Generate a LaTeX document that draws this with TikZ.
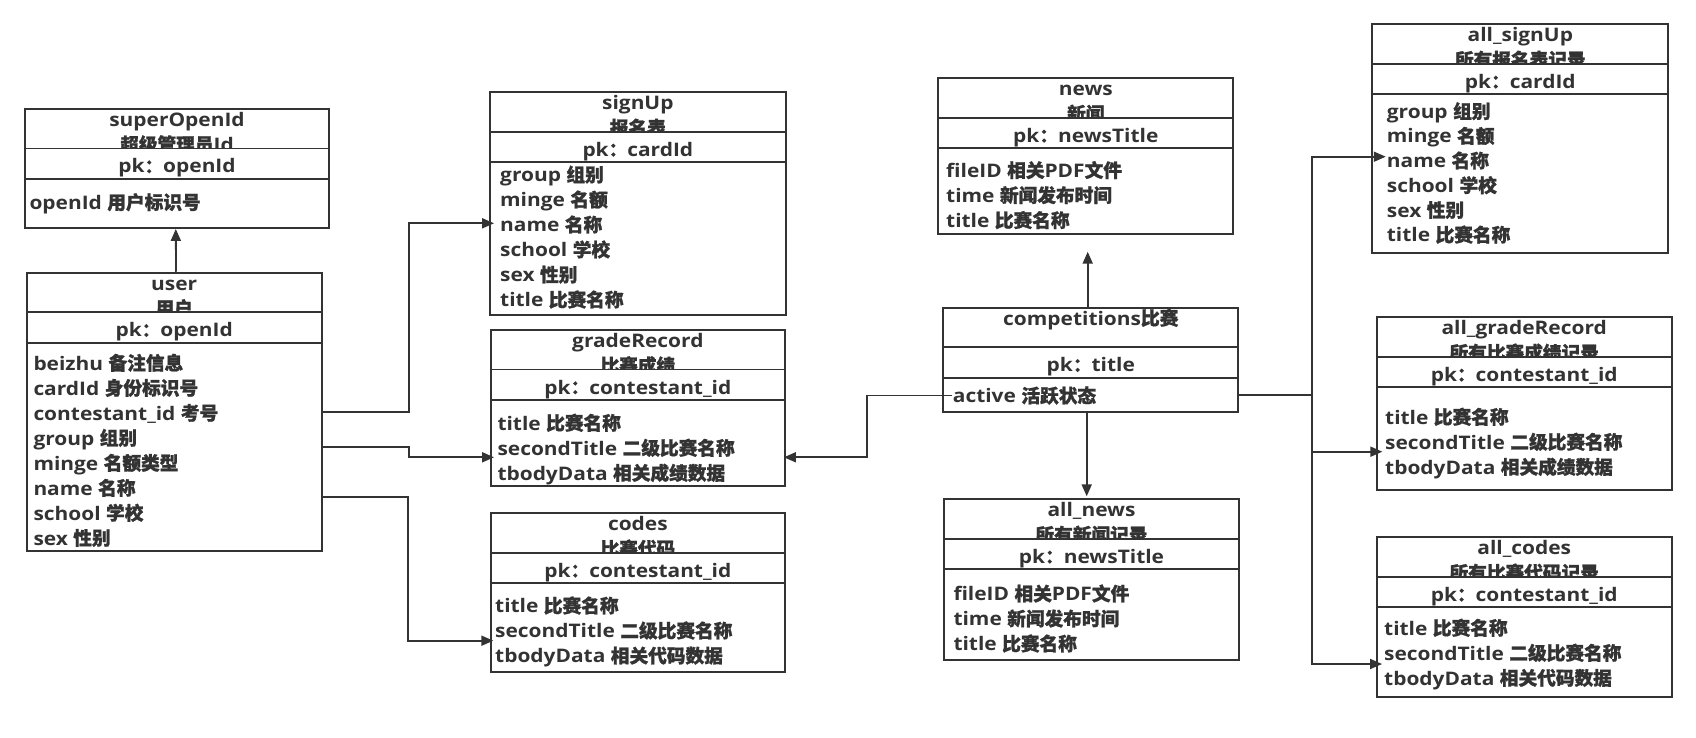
\documentclass[tikz,border=0pt]{standalone}
\usepackage{fontspec}
\setmainfont{Open Sans}[FakeStretch=1.12]
\newfontfamily\cjk{Noto Sans CJK SC}[FakeBold=1.2]
\usetikzlibrary{arrows.meta}
\definecolor{ink}{HTML}{333333}
\tikzset{
  tbl/.style={draw=ink, line width=1.9pt, rectangle, inner sep=0pt},
  sepline/.style={draw=ink, line width=1.9pt},
  ttl/.style={text=ink, inner sep=0pt, anchor=base, font=\fontsize{18.67}{25}\selectfont\bfseries},
  attr/.style={text=ink, inner sep=0pt, anchor=base west, font=\fontsize{18.67}{25}\selectfont\bfseries},
  conn/.style={draw=ink, line width=1.8pt},
  arr/.style={conn, -{Triangle[length=12pt,width=10pt]}},
}
\newcommand\erbox[8]{%
  \begin{scope}
    \clip (#2,#3) rectangle (#4,{#3+39.5});
    \node[ttl] (#1-t1) at ({(#2+#4)/2},{#3+17.5}) {#6};
    \node[ttl] (#1-t2) at ({(#2+#4)/2},{#3+42.5}) {#7};
  \end{scope}
  \node[tbl, minimum width={(#4)-(#2)}, minimum height={(#5)-(#3)}] (#1) at ({(#2+#4)/2},{(#3+#5)/2}) {};
  \draw[sepline] (#2,{#3+39.5}) -- (#4,{#3+39.5});
  \draw[sepline] (#2,{#3+70}) -- (#4,{#3+70});
  \node[ttl] (#1-pk) at ({(#2+#4)/2},{#3+64}) {#8};
}
\begin{document}
\begin{tikzpicture}[x=1pt,y=-1pt]
\fill[white] (0,0) rectangle (1696,738);
\useasboundingbox (0,0) rectangle (1696,738);

% superOpenId
\erbox{sup}{25}{109}{329}{228}{superOpenId}{{\cjk 超级管理员}Id}{pk{\cjk ：}openId}
\node[attr] (sup-a1) at (29.3,209.3) {openId {\cjk 用户标识号}};

% user
\erbox{user}{26.7}{272.7}{321.7}{551}{user}{{\cjk 用户}}{pk{\cjk ：}openId}
\node[attr] (user-a1) at (33.3,370) {beizhu {\cjk 备注信息}};
\node[attr] (user-a2) at (33.3,395) {cardId {\cjk 身份标识号}};
\node[attr] (user-a3) at (33.3,420) {contestant\_id {\cjk 考号}};
\node[attr] (user-a4) at (33.3,445) {group {\cjk 组别}};
\node[attr] (user-a5) at (33.3,470) {minge {\cjk 名额类型}};
\node[attr] (user-a6) at (33.3,495) {name {\cjk 名称}};
\node[attr] (user-a7) at (33.3,520) {school {\cjk 学校}};
\node[attr] (user-a8) at (33.3,545) {sex {\cjk 性别}};

% signUp
\erbox{su}{490}{92.3}{785.7}{315.3}{signUp}{{\cjk 报名表}}{pk{\cjk ：}cardId}
\node[attr] (su-a1) at (500,181.7) {group {\cjk 组别}};
\node[attr] (su-a2) at (500,206.7) {minge {\cjk 名额}};
\node[attr] (su-a3) at (500,231.7) {name {\cjk 名称}};
\node[attr] (su-a4) at (500,256.7) {school {\cjk 学校}};
\node[attr] (su-a5) at (500,281.7) {sex {\cjk 性别}};
\node[attr] (su-a6) at (500,306.7) {title {\cjk 比赛名称}};

% gradeRecord
\erbox{gr}{490.7}{330}{785}{485.7}{gradeRecord}{{\cjk 比赛成绩}}{pk{\cjk ：}contestant\_id}
\node[attr] (gr-a1) at (497.3,430) {title {\cjk 比赛名称}};
\node[attr] (gr-a2) at (497.3,455) {secondTitle {\cjk 二级比赛名称}};
\node[attr] (gr-a3) at (497.3,480) {tbodyData {\cjk 相关成绩数据}};

% codes
\erbox{cd}{490.7}{513.3}{785}{671.7}{codes}{{\cjk 比赛代码}}{pk{\cjk ：}contestant\_id}
\node[attr] (cd-a1) at (495,612.7) {title {\cjk 比赛名称}};
\node[attr] (cd-a2) at (495,637.7) {secondTitle {\cjk 二级比赛名称}};
\node[attr] (cd-a3) at (495,662.7) {tbodyData {\cjk 相关代码数据}};

% news
\erbox{news}{938.3}{78.3}{1233.3}{234}{news}{{\cjk 新闻}}{pk{\cjk ：}newsTitle}
\node[attr] (news-a1) at (946,177.3) {fileID {\cjk 相关}PDF{\cjk 文件}};
\node[attr] (news-a2) at (946,202.3) {time {\cjk 新闻发布时间}};
\node[attr] (news-a3) at (946,227.3) {title {\cjk 比赛名称}};

% competitions
\node[ttl] (comp-t1) at (1090.8,325) {competitions{\cjk 比赛}};
\node[tbl, minimum width=295pt, minimum height=104pt] (comp) at (1090.8,360.3) {};
\draw[sepline] (943.3,347.3) -- (1238.3,347.3);
\draw[sepline] (943.3,378.3) -- (1238.3,378.3);
\node[ttl] (comp-pk) at (1090.8,371.7) {pk{\cjk ：}title};
\node[attr] (comp-active) at (952.7,402.7) {active {\cjk 活跃状态}};

% all_news
\erbox{an}{944}{499.3}{1239}{660}{all\_news}{{\cjk 所有新闻记录}}{pk{\cjk ：}newsTitle}
\node[attr] (an-a1) at (953.3,600.7) {fileID {\cjk 相关}PDF{\cjk 文件}};
\node[attr] (an-a2) at (953.3,625.7) {time {\cjk 新闻发布时间}};
\node[attr] (an-a3) at (953.3,650.7) {title {\cjk 比赛名称}};

% all_signUp
\erbox{as}{1372.3}{24.3}{1668.3}{252.7}{all\_signUp}{{\cjk 所有报名表记录}}{pk{\cjk ：}cardId}
\node[attr] (as-a1) at (1386.7,118.3) {group {\cjk 组别}};
\node[attr] (as-a2) at (1386.7,143) {minge {\cjk 名额}};
\node[attr] (as-a3) at (1386.7,167.7) {name {\cjk 名称}};
\node[attr] (as-a4) at (1386.7,192.4) {school {\cjk 学校}};
\node[attr] (as-a5) at (1386.7,217.1) {sex {\cjk 性别}};
\node[attr] (as-a6) at (1386.7,241.8) {title {\cjk 比赛名称}};

% all_gradeRecord
\erbox{ag}{1376.7}{317.3}{1671.7}{490}{all\_gradeRecord}{{\cjk 所有比赛成绩记录}}{pk{\cjk ：}contestant\_id}
\node[attr] (ag-a1) at (1385,424) {title {\cjk 比赛名称}};
\node[attr] (ag-a2) at (1385,449) {secondTitle {\cjk 二级比赛名称}};
\node[attr] (ag-a3) at (1385,474) {tbodyData {\cjk 相关成绩数据}};

% all_codes
\erbox{ac}{1376.7}{537.3}{1671.7}{696.7}{all\_codes}{{\cjk 所有比赛代码记录}}{pk{\cjk ：}contestant\_id}
\node[attr] (ac-a1) at (1384,635) {title {\cjk 比赛名称}};
\node[attr] (ac-a2) at (1384,660) {secondTitle {\cjk 二级比赛名称}};
\node[attr] (ac-a3) at (1384,685) {tbodyData {\cjk 相关代码数据}};

% connectors
\draw[arr] (user.east) -- ++(86.6,0) |- ([xshift=5pt,yshift=-19.5pt]su.west);
\draw[arr] ([yshift=-35.45pt]user.east) -- ++(86,0) |- ([xshift=4.3pt,yshift=-49.45pt]gr.west);
\draw[arr] ([yshift=-84.85pt]user.east) -- ++(85,0) |- ([xshift=3.6pt,yshift=-48.2pt]cd.west);
\draw[arr] ([xshift=1.8pt]user.north) -- ([xshift=-1.2pt]sup.south);
\coordinate (newsarrow) at (1087.7,251.7);
\draw[arr] ([xshift=-3.1pt]comp.north) -- (newsarrow);
\draw[arr] ([xshift=-4.1pt]comp.south) -- ([xshift=-4.8pt,yshift=2pt]an.north);
\draw[arr] ([xshift=-1pt]comp-active.west) -- ++(-85,0) |- ([xshift=-2pt,yshift=-49.45pt]gr.east);
\draw[arr] ([yshift=-35pt]comp.east) -- ++(72.7,0) |- ([xshift=14.4pt,yshift=-18.2pt]as.west);
\draw[arr] ([yshift=-35pt]comp.east) -- ++(72.7,0) |- ([xshift=6.6pt,yshift=-48.05pt]ag.west);
\draw[arr] ([yshift=-35pt]comp.east) -- ++(72.7,0) |- ([xshift=6.3pt,yshift=-47pt]ac.west);
\end{tikzpicture}
\end{document}
